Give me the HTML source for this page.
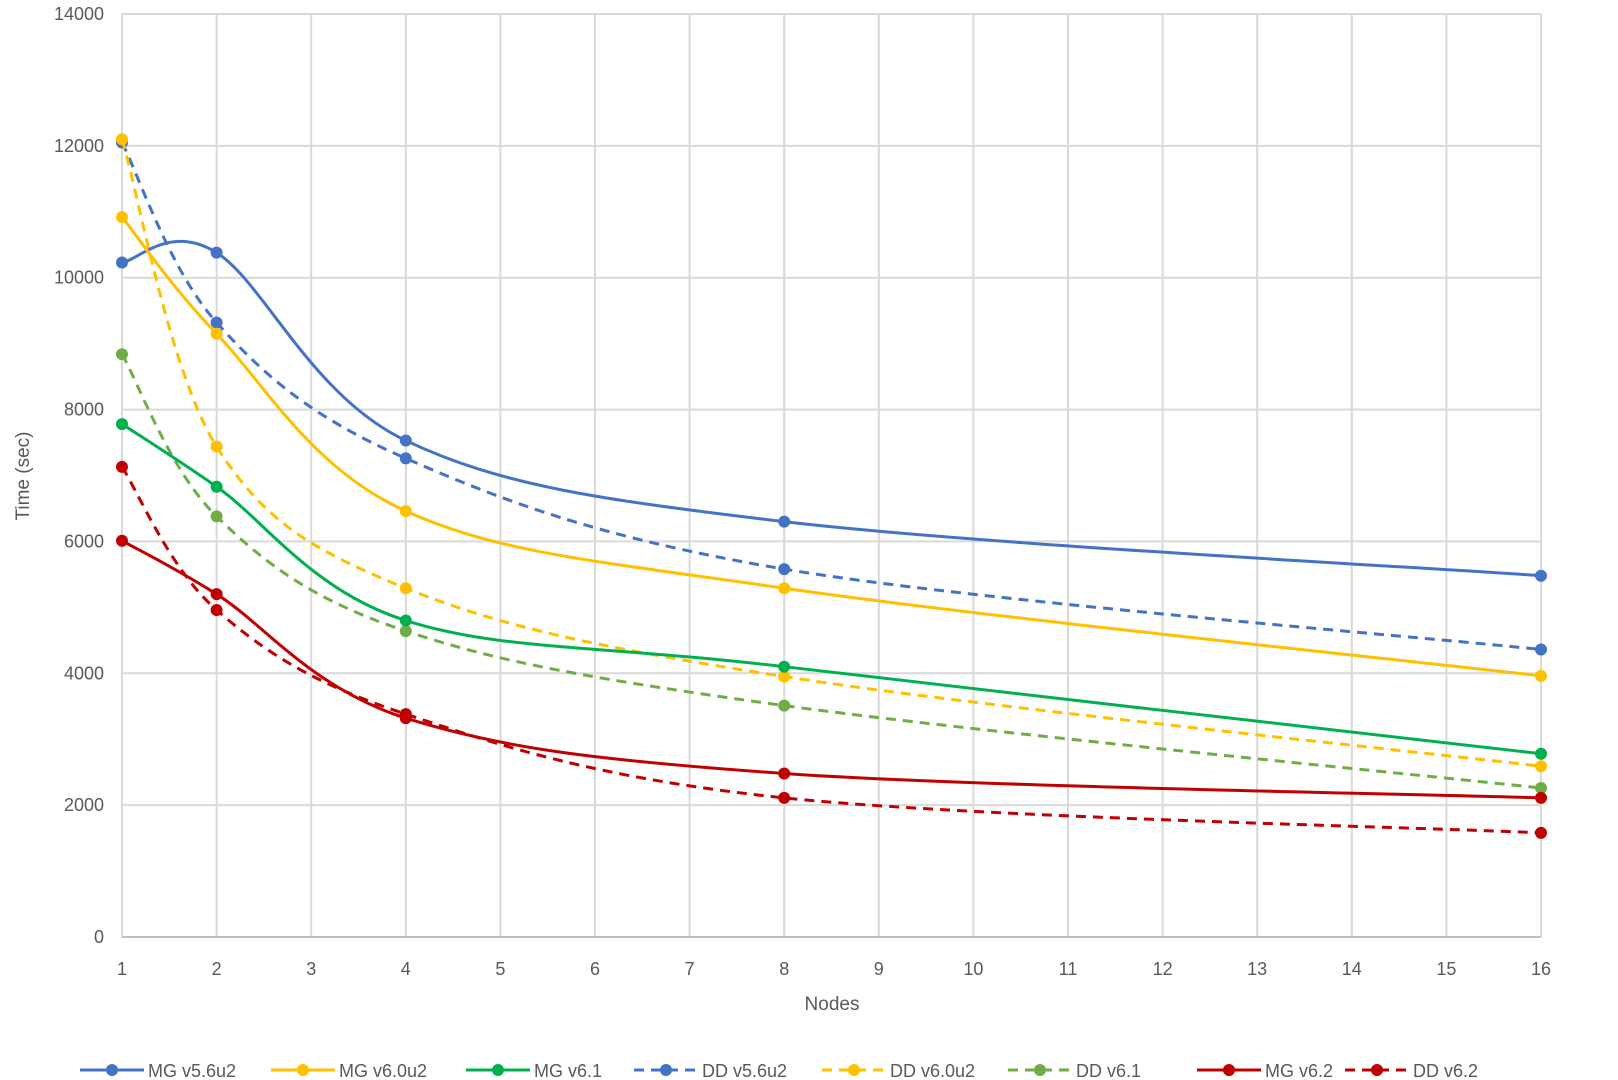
<!DOCTYPE html>
<html><head><meta charset="utf-8"><style>
html,body{margin:0;padding:0;background:#fff;}
svg{display:block;font-family:"Liberation Sans",sans-serif;}
</style></head><body>
<svg id="c" width="1618" height="1080" xmlns="http://www.w3.org/2000/svg"></svg>
<script>
const svg=document.getElementById('c');
const NS='http://www.w3.org/2000/svg';
function el(t,a,txt){const e=document.createElementNS(NS,t);for(const k in a)e.setAttribute(k,a[k]);if(txt!==undefined)e.textContent=txt;svg.appendChild(e);return e;}
const X=n=>122+(n-1)*94.6, Y=v=>937-v*923/14000;
// grid
for(let n=1;n<=16;n++){el('line',{x1:X(n),y1:Y(14000),x2:X(n),y2:Y(0),stroke:'#d9d9d9','stroke-width':2});
 el('text',{x:X(n),y:975,'font-size':18,fill:'#595959','text-anchor':'middle'},n);}
for(let v=0;v<=14000;v+=2000){el('line',{x1:X(1),y1:Y(v),x2:X(16),y2:Y(v),stroke:v?'#d9d9d9':'#bfbfbf','stroke-width':2});
 el('text',{x:104,y:Y(v)+6,'font-size':18,fill:'#595959','text-anchor':'end'},v);}
el('text',{x:832,y:1010,'font-size':19,fill:'#595959','text-anchor':'middle'},'Nodes');
el('text',{x:0,y:0,'font-size':19,fill:'#595959','text-anchor':'middle',transform:'translate(29,476) rotate(-90)'},'Time (sec)');
const xs=[1,2,4,8,16];
const S=[
['MG v5.6u2','#4472C4',0,[10230,10380,7530,6300,5480]],
['MG v6.0u2','#FFC000',0,[10920,9150,6460,5290,3960]],
['MG v6.1','#00B050',0,[7780,6830,4800,4100,2780]],
['DD v5.6u2','#4472C4',1,[12050,9320,7260,5580,4360]],
['DD v6.0u2','#FFC000',1,[12100,7440,5290,3950,2590]],
['DD v6.1','#70AD47',1,[8840,6380,4640,3510,2260]],
['MG v6.2','#C00000',0,[6010,5200,3320,2480,2110]],
['DD v6.2','#C00000',1,[7130,4960,3380,2110,1580]]];
const drawOrder=[3,4,5,7,0,1,2,6];
for(const i of drawOrder){const [nm,c,d,v]=S[i];
 const p=xs.map((x,k)=>[X(x),Y(v[k])]);
 let s=`M${p[0][0]},${p[0][1]}`;
 for(let k=0;k<p.length-1;k++){const p0=p[Math.max(0,k-1)],p1=p[k],p2=p[k+1],p3=p[Math.min(p.length-1,k+2)];
  const c1=[p1[0]+(p2[0]-p0[0])/6,p1[1]+(p2[1]-p0[1])/6],c2=[p2[0]-(p3[0]-p1[0])/6,p2[1]-(p3[1]-p1[1])/6];
  s+=` C${c1[0]},${c1[1]} ${c2[0]},${c2[1]} ${p2[0]},${p2[1]}`;}
 const a={d:s,fill:'none',stroke:c,'stroke-width':3};if(d)a['stroke-dasharray']='10,7';
 el('path',a);
 p.forEach(q=>el('circle',{cx:q[0],cy:q[1],r:6,fill:c}));}
// legend
const lx=[80,271,466,634,822,1008,1197,1345];
S.forEach(([nm,c,d],i)=>{const x=lx[i],y=1070;
 const a={x1:x,y1:y,x2:x+64,y2:y,stroke:c,'stroke-width':3};if(d)a['stroke-dasharray']='10,7';
 el('line',a);el('circle',{cx:x+32,cy:y,r:6,fill:c});
 el('text',{x:x+68,y:y+7,'font-size':18,fill:'#595959'},nm);});
</script>
</body></html>
